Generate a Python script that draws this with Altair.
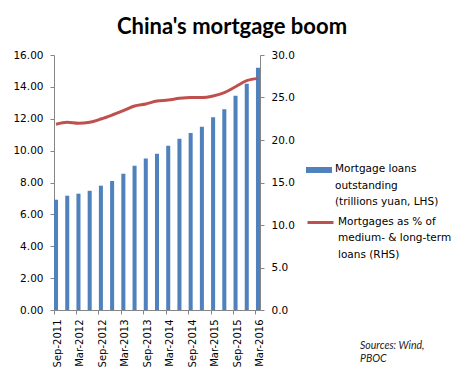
import altair as alt
import pandas as pd

quarters = ["Sep-2011", "Dec-2011", "Mar-2012", "Jun-2012", "Sep-2012", "Dec-2012",
            "Mar-2013", "Jun-2013", "Sep-2013", "Dec-2013", "Mar-2014", "Jun-2014",
            "Sep-2014", "Dec-2014", "Mar-2015", "Jun-2015", "Sep-2015", "Dec-2015",
            "Mar-2016"]
loans = [6.92, 7.17, 7.30, 7.48, 7.80, 8.10, 8.55, 9.05, 9.50, 9.80, 10.30, 10.75,
         11.10, 11.50, 12.10, 12.60, 13.45, 14.20, 15.20]
share = [21.85, 22.08, 21.96, 22.08, 22.47, 22.94, 23.45, 24.00, 24.24, 24.59, 24.70,
         24.90, 25.00, 25.00, 25.18, 25.57, 26.27, 26.98, 27.25]
tick_labels = quarters[::2]
left_ticks = [0, 2, 4, 6, 8, 10, 12, 14, 16]
right_ticks = [0, 5, 10, 15, 20, 25, 30]
bar_name = "Mortgage loans\noutstanding\n(trillions yuan, LHS)"
line_name = "Mortgages as % of\nmedium- & long-term\nloans (RHS)"
source_lines = ["Sources: Wind,", "PBOC"]
title_text = "China's mortgage boom"

BLUE = "#4F81BD"
RED = "#C0504D"
AXIS_GREY = "#868686"
FONT = "DejaVu Sans"

df = pd.DataFrame({"quarter": quarters, "loans": loans, "share": share,
                   "bar_series": bar_name, "line_series": line_name})

x_enc = alt.X("quarter:N", sort=quarters, title=None,
              scale=alt.Scale(paddingInner=0.64, paddingOuter=0),
              axis=alt.Axis(values=tick_labels, labelAngle=-90, bandPosition=0,
                            labelOffset=2, labelPadding=5, tickSize=4,
                            labelFont=FONT, labelFontSize=10, labelColor="#000"))

leg_common = dict(orient="none", title=None, padding=0, labelBaseline="top",
                  labelFont=FONT, labelFontSize=10.5, labelColor="#000",
                  labelOffset=3, labelLimit=300, symbolSize=676,
                  labelExpr="split(datum.label, '\\n')")

bars = alt.Chart(df).mark_bar().encode(
    x=x_enc,
    y=alt.Y("loans:Q", title=None,
            scale=alt.Scale(domain=[0, 16], nice=False, zero=True),
            axis=alt.Axis(values=left_ticks, format=".2f", orient="left",
                          labelPadding=7, tickSize=4, labelFont=FONT,
                          labelFontSize=10.5, labelColor="#000")),
    fill=alt.Fill("bar_series:N", scale=alt.Scale(range=[BLUE]),
                  legend=alt.Legend(symbolType="M-1,0.23H1V0.69H-1Z",
                                    symbolStrokeWidth=0, legendX=252, legendY=96,
                                    **leg_common)),
)

line = alt.Chart(df).mark_line(strokeWidth=3, interpolate="monotone").encode(
    x=x_enc,
    y=alt.Y("share:Q", title=None,
            scale=alt.Scale(domain=[0, 30], nice=False, zero=True),
            axis=alt.Axis(values=right_ticks, format=".1f", orient="right",
                          labelPadding=7, tickSize=4, labelFont=FONT,
                          labelFontSize=10.5, labelColor="#000")),
    stroke=alt.Stroke("line_series:N", scale=alt.Scale(range=[RED]),
                      legend=alt.Legend(symbolType="M-1,0.46H1",
                                        symbolStrokeWidth=3, legendX=252, legendY=147,
                                        **leg_common)),
)

src = alt.Chart(pd.DataFrame({"t": [0]})).mark_text(
    align="left", baseline="middle", font="Lato", fontStyle="italic",
    fontSize=10.5, lineHeight=13, color="#222"
).encode(x=alt.value(306), y=alt.value(291), text=alt.value(source_lines))

chart = alt.layer(bars, line, src).resolve_scale(
    y="independent", fill="independent", stroke="independent"
).properties(
    width=206, height=255,
    title=alt.TitleParams(title_text, font="Lato", fontSize=22, fontWeight="bold",
                          color="#000", anchor="middle", dx=75, offset=11),
    padding={"left": 4, "top": 8, "right": 5, "bottom": 5},
).configure(
    style={"guide-label": {"font": FONT, "fontSize": 10.5, "fill": "#000",
                           "lineHeight": 16.5}}
).configure_view(stroke=None).configure_axis(
    grid=False, domainColor=AXIS_GREY, tickColor=AXIS_GREY,
    labelFont=FONT, labelFontSize=10.5, labelColor="#000"
)

chart.save("out.html", embed_options={"renderer": "svg", "actions": False})
